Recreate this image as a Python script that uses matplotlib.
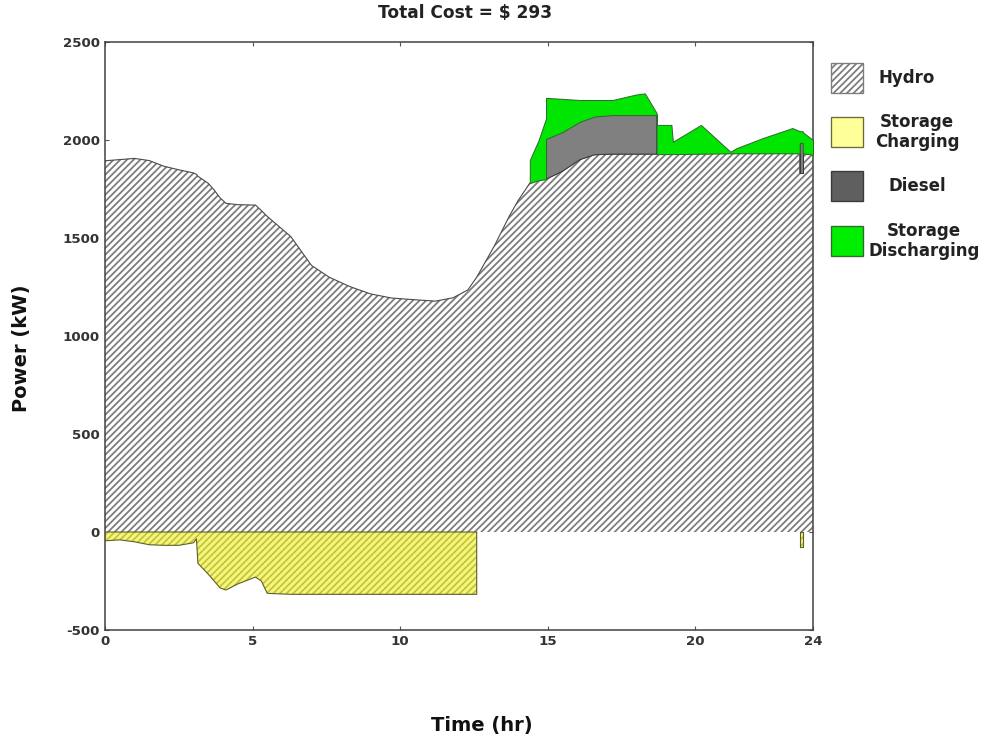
import numpy as np
import matplotlib
matplotlib.use("Agg")
import matplotlib.pyplot as plt
from matplotlib.patches import Rectangle

# ---------------- data ----------------
t_hr = [0.0, 0.5, 1.0, 1.5, 2.0, 2.5, 3.0, 3.1, 3.15, 3.5,
        3.7, 3.9, 4.1, 4.5, 5.1, 5.3, 5.5, 6.3, 7.0, 7.6,
        8.3, 9.0, 9.7, 10.5, 11.2, 11.8, 12.3, 12.6, 12.6, 13.2,
        13.7, 14.0, 14.4, 14.4, 14.7, 14.95, 14.95, 15.5, 16.1, 16.6,
        17.2, 18.0, 18.3, 18.7, 18.7, 19.2, 19.25, 20.2, 21.2, 21.4,
        22.3, 23.3, 23.55, 23.55, 23.65, 23.65, 24.0]

hydro_kw = [1894, 1900, 1906, 1895, 1866, 1848, 1832, 1825, 1815, 1779,
            1745, 1705, 1677, 1670, 1668, 1640, 1610, 1507, 1360, 1300,
            1252, 1215, 1194, 1185, 1178, 1195, 1235, 1300, 1300, 1460,
            1610, 1690, 1780, 1780, 1795, 1800, 1800, 1840, 1900, 1925,
            1928, 1928, 1928, 1928, 1928, 1928, 1928, 1930, 1932, 1932,
            1932, 1932, 1932, 1830, 1830, 1932, 1925]

diesel_kw = [0, 0, 0, 0, 0, 0, 0, 0, 0, 0,
             0, 0, 0, 0, 0, 0, 0, 0, 0, 0,
             0, 0, 0, 0, 0, 0, 0, 0, 0, 0,
             0, 0, 0, 0, 0, 0, 205, 200, 193, 195,
             199, 199, 199, 199, 0, 0, 0, 0, 0, 0,
             0, 0, 0, 155, 155, 0, 0]

discharge_kw = [0, 0, 0, 0, 0, 0, 0, 0, 0, 0,
                0, 0, 0, 0, 0, 0, 0, 0, 0, 0,
                0, 0, 0, 0, 0, 0, 0, 0, 0, 0,
                0, 0, 0, 118, 205, 310, 210, 170, 111, 84,
                77, 105, 111, 10, 149, 149, 63, 147, 8, 26,
                78, 129, 113, 60, 60, 108, 75]

charging_kw = [-45, -40, -50, -65, -68, -68, -55, -35, -160, -215,
               -250, -285, -296, -265, -230, -250, -313, -318, -318, -318,
               -318, -318, -318, -318, -318, -318, -318, -318, 0, 0,
               0, 0, 0, 0, 0, 0, 0, 0, 0, 0,
               0, 0, 0, 0, 0, 0, 0, 0, 0, 0,
               0, 0, 0, -75, -75, 0, 0]

x_ticks = [0, 5, 10, 15, 20, 24]
y_ticks = [-500, 0, 500, 1000, 1500, 2000, 2500]
legend_labels = ["Hydro", "Storage\nCharging", "Diesel", "Storage\nDischarging"]
title_text = "Total Cost = $ 293"

# ---------------- figure ----------------
W, H, DPI = 990, 749, 80
plt.rcParams['font.family'] = ['DejaVu Sans']
plt.rcParams['hatch.linewidth'] = 1.6
plt.rcParams['axes.unicode_minus'] = False
fig = plt.figure(figsize=(W / DPI, H / DPI), dpi=DPI)
ax_l, ax_r, ax_t, ax_b = 105, 813, 42, 630
ax = fig.add_axes([ax_l / W, 1 - ax_b / H, (ax_r - ax_l) / W, (ax_b - ax_t) / H])

t = np.array(t_hr, dtype=float)
hy = np.array(hydro_kw, dtype=float)
di = np.array(diesel_kw, dtype=float)
dc = np.array(discharge_kw, dtype=float)
ch = np.array(charging_kw, dtype=float)

hatch_grey = '#7c7c7c'
HATCH = '////'
# hydro
ax.fill_between(t, 0, hy, facecolor='white', edgecolor=hatch_grey, hatch=HATCH, linewidth=0, zorder=2)
ax.plot(t, hy, color='#4a4a4a', lw=1.0, zorder=3)
# charging
mask_c = ch < 0
ax.fill_between(t, 0, ch, where=mask_c, facecolor='#f6f67e', edgecolor='#c4c43c', hatch=HATCH, linewidth=0, zorder=2)
ax.fill_between(t, 0, ch, where=mask_c, facecolor='none', edgecolor='#5e5e2a', linewidth=1.0, zorder=3)
# diesel
top_d = hy + di
ax.fill_between(t, hy, top_d, where=di > 0, facecolor='#808080', edgecolor='#3c3c3c', linewidth=0.9, zorder=4)
# discharging
top_g = top_d + dc
ax.fill_between(t, top_d, top_g, where=dc > 0, facecolor='#00e600', edgecolor='#2f6a2f', linewidth=0.9, zorder=4)

ax.set_xlim(0, 24)
ax.set_ylim(-500, 2500)
ax.set_xticks(x_ticks)
ax.set_yticks(y_ticks)
ax.tick_params(direction='in', top=True, right=True, length=4, width=1, color='#555555',
               labelsize=12, labelcolor='#333333', pad=4.5)
for lab in ax.get_xticklabels() + ax.get_yticklabels():
    lab.set_fontweight('bold')
for sp in ax.spines.values():
    sp.set_linewidth(1.4)
    sp.set_color('#444444')

ax.text((465 - ax_l) / (ax_r - ax_l), (ax_b - 13) / (ax_b - ax_t), title_text, transform=ax.transAxes,
        ha='center', va='center', fontsize=15.3, fontweight='bold', color='#222222')
ax.set_xlabel("Time (hr)", fontsize=17.5, fontweight='bold', va='center', color='#111111')
ax.xaxis.set_label_coords((482 - ax_l) / (ax_r - ax_l), (ax_b - 726) / (ax_b - ax_t))
ax.set_ylabel("Power (kW)", fontsize=17.5, fontweight='bold', va='center', ha='center', color='#111111')
ax.yaxis.set_label_coords((22 - ax_l) / (ax_r - ax_l), (ax_b - 348) / (ax_b - ax_t))

# ---------------- legend (drawn in figure pixels) ----------------
def fx(x):
    return x / W

def fy(y):
    return 1 - y / H

patch_styles = [
    dict(facecolor='white', edgecolor=hatch_grey, hatch='////'),
    dict(facecolor='#ffff99', edgecolor='#6b6b3a'),
    dict(facecolor='#5f5f5f', edgecolor='#3a3a3a'),
    dict(facecolor='#00ee00', edgecolor='#2f6a2f'),
]
patch_centers = [78, 132, 186, 241]
text_centers_x = [907, 917, 917, 924]
for lab, st, yc, tx in zip(legend_labels, patch_styles, patch_centers, text_centers_x):
    r = Rectangle((fx(831), fy(yc + 15)), 32 / W, 30 / H, transform=fig.transFigure,
                  linewidth=1.2, **st)
    fig.add_artist(r)
    fig.text(fx(tx), fy(yc), lab, ha='center', va='center', multialignment='center',
             fontsize=15, fontweight='bold', color='#222222', linespacing=1.15)

fig.savefig("out.png", dpi=DPI)
